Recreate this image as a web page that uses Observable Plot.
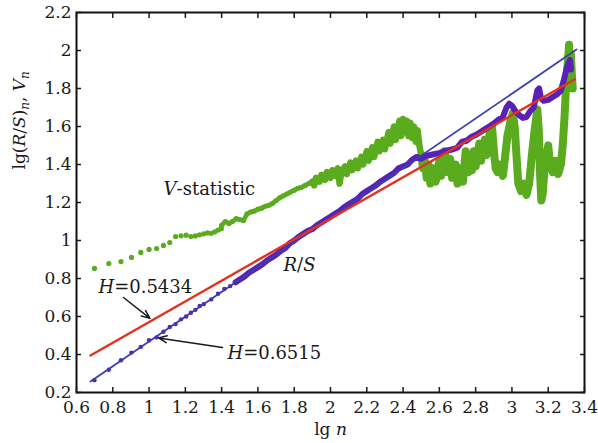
<!DOCTYPE html>
<html><head><meta charset="utf-8">
<script src="https://cdn.jsdelivr.net/npm/d3@7"></script>
<script src="https://cdn.jsdelivr.net/npm/@observablehq/plot@0.6"></script>
<style>
html,body{margin:0;padding:0;background:#fff;}
#chart text{white-space:pre;}
</style></head><body><div id="chart"></div>
<script>
// ---- tick labels ----
const xTicks = [0.6,0.8,1,1.2,1.4,1.6,1.8,2,2.2,2.4,2.6,2.8,3,3.2,3.4];
const yTicks = [0.2,0.4,0.6,0.8,1,1.2,1.4,1.6,1.8,2,2.2];

// ---- V-statistic (green): individual early points, n = 5..25 ----
const vLowN = [5,6,7,8,9,10,11,12,13,14,15,16,17,18,19,20,21,22,23,24,25];
const vLowY = [0.853,0.879,0.889,0.911,0.937,0.953,0.958,0.974,0.989,1.021,1.025,1.028,1.021,1.024,1.030,1.035,1.040,1.038,1.045,1.055,1.062];
// ---- V-statistic (green): dense part, lg n and V_n ----
const vBandX = [1.40,1.42,1.44,1.46,1.48,1.50,1.52,1.54,1.56,1.58,1.60,1.62,1.64,1.66,1.68,1.70,1.72,1.74,1.76,1.78,1.80,1.82,1.84,1.86,1.88,1.90,
  1.91,1.92,1.94,1.95,1.97,1.98,2.00,2.01,2.03,2.04,2.05,2.06,2.08,2.09,2.11,2.12,2.14,2.15,2.17,2.18,2.20,2.21,2.23,2.24,2.26,2.27,2.29,2.30,2.32,2.33,2.35,2.36,2.38,2.39,2.40,2.41,2.42,2.43,2.44,2.45,2.46,2.47,2.48,2.49,2.50,2.51,2.52,2.53,
  2.54,2.55,2.57,2.58,2.60,2.61,2.63,2.64,2.66,2.67,2.69,2.70,2.72,2.73,2.745,2.76,2.77,2.78,2.79,2.80,2.82,2.83,2.85,2.86,2.88,2.89,2.90,2.91,2.92,2.935,2.95,2.96,2.975,2.99,3.005,3.015,3.025,3.035,3.05,3.065,3.08,3.095,3.11,3.125,3.14,3.148,3.155,3.162,3.17,3.18,3.19,3.20,3.21,3.225,3.24,3.255,3.27,3.28,3.29,3.30,3.31,3.315,3.32,3.325,3.33,3.335];
const vBandY = [1.08,1.10,1.09,1.10,1.115,1.11,1.105,1.14,1.15,1.155,1.165,1.17,1.18,1.185,1.195,1.21,1.225,1.235,1.245,1.255,1.265,1.275,1.28,1.29,1.30,1.31,
  1.29,1.33,1.31,1.345,1.32,1.36,1.33,1.37,1.34,1.38,1.30,1.36,1.39,1.35,1.41,1.37,1.42,1.38,1.44,1.40,1.47,1.42,1.49,1.44,1.52,1.47,1.53,1.48,1.57,1.51,1.60,1.53,1.63,1.55,1.64,1.57,1.63,1.55,1.62,1.54,1.60,1.52,1.58,1.50,1.45,1.38,1.42,1.33,
  1.40,1.30,1.38,1.31,1.42,1.34,1.47,1.36,1.43,1.33,1.40,1.30,1.38,1.31,1.47,1.36,1.44,1.37,1.47,1.39,1.51,1.42,1.53,1.45,1.58,1.60,1.48,1.38,1.36,1.40,1.34,1.42,1.55,1.62,1.67,1.60,1.45,1.30,1.26,1.30,1.24,1.30,1.45,1.58,1.69,1.58,1.35,1.21,1.25,1.38,1.45,1.50,1.40,1.36,1.42,1.35,1.40,1.50,1.65,1.85,1.96,2.03,1.90,1.98,1.88,1.80];

// ---- R/S (purple): individual early points ----
const rsLowN = [5,6,7,8,9,10,11,12,13,14,15,16,17,18,19,20,22,24,26,28,30];
const rsLowY = [0.265,0.32,0.37,0.41,0.44,0.475,0.49,0.52,0.545,0.56,0.585,0.60,0.62,0.635,0.655,0.665,0.69,0.72,0.745,0.76,0.78];
// ---- R/S (purple): dense part ----
const rsBandX = [1.50,1.525,1.55,1.575,1.60,1.625,1.65,1.675,1.70,1.725,1.75,1.775,1.80,1.825,1.85,1.875,1.90,1.925,1.95,1.975,2.00,2.025,2.05,2.075,2.10,2.125,2.15,2.175,2.20,2.225,2.25,2.275,2.30,2.325,2.35,2.375,2.40,2.425,2.45,2.475,2.50,2.525,2.55,2.575,2.60,2.625,2.65,2.675,2.70,2.725,2.75,2.775,2.80,2.825,2.85,2.875,2.90,2.925,2.95,2.97,2.985,3.00,3.02,3.04,3.06,3.08,3.10,3.12,3.14,3.15,3.16,3.175,3.20,3.225,3.25,3.27,3.285,3.30,3.31,3.32,3.325];
const rsBandY = [0.795,0.81,0.83,0.845,0.86,0.875,0.895,0.91,0.925,0.945,0.96,0.985,1.00,1.02,1.035,1.05,1.06,1.08,1.095,1.11,1.125,1.14,1.155,1.175,1.19,1.205,1.22,1.245,1.26,1.275,1.29,1.31,1.325,1.34,1.355,1.38,1.39,1.40,1.425,1.44,1.43,1.445,1.45,1.455,1.46,1.47,1.475,1.48,1.49,1.52,1.525,1.545,1.555,1.57,1.585,1.60,1.615,1.635,1.65,1.70,1.72,1.71,1.68,1.66,1.645,1.65,1.68,1.70,1.79,1.80,1.75,1.735,1.74,1.755,1.77,1.79,1.84,1.90,1.93,1.95,1.90];

// ---- fitted lines (end points) ----
const fitX = [0.677, 3.356];
const fitBlueY = [0.258, 2.005];      // H = 0.6515
const fitRedX = [0.677, 3.345];
const fitRedY = [0.395, 1.847];       // H = 0.5434

// ---- annotations (data coordinates) ----
const notes = [
  {text: "V-statistic", x: 1.08, y: 1.268},
  {text: "R/S", x: 1.741, y: 0.868},
  {text: "H=0.5434", x: 0.721, y: 0.753},
  {text: "H=0.6515", x: 1.432, y: 0.405}
];
const arrows = [
  {x1: 0.859, y1: 0.70, x2: 1.005, y2: 0.59},
  {x1: 1.405, y1: 0.437, x2: 1.052, y2: 0.487}
];

const GREEN = "#5aac1e", PURPLE = "#5a22b4", BLUE = "#3b3fae", RED = "#e3321f";

const vLow = vLowN.map((n, i) => ({x: Math.log10(n), y: vLowY[i]}));
const vBand = vBandX.map((x, i) => ({x, y: vBandY[i]}));
const rsLow = rsLowN.map((n, i) => ({x: Math.log10(n), y: rsLowY[i]}));
const rsBand = rsBandX.map((x, i) => ({x, y: rsBandY[i]}));
const blue = fitX.map((x, i) => ({x, y: fitBlueY[i]}));
const red = fitRedX.map((x, i) => ({x, y: fitRedY[i]}));
const vThin = [vLow[vLow.length - 1], ...vBand.filter(d => d.x <= 1.91)];
const vMid = vBand.filter(d => d.x >= 1.90 && d.x <= 2.50);
const vDense = vBand.filter(d => d.x >= 2.50);
const rsLine = [rsLow[rsLow.length - 1], ...rsBand];

const fmt = d => d3.format("~g")(d);
const FONT = '"DejaVu Serif", serif';
const INK = "#1a1a1a";

const chart = Plot.plot({
  width: 598, height: 443,
  marginLeft: 76, marginRight: 14, marginTop: 12, marginBottom: 51,
  style: {fontFamily: FONT, fontSize: "17px", color: INK, background: "#fff"},
  x: {domain: [0.6, 3.4]},
  y: {domain: [0.2, 2.2]},
  marks: [
    Plot.line(vThin, {x: "x", y: "y", stroke: GREEN, strokeWidth: 4.5, strokeLinejoin: "round", strokeLinecap: "round"}),
    Plot.line(vMid, {x: "x", y: "y", stroke: GREEN, strokeWidth: 6.5, strokeLinejoin: "round", strokeLinecap: "round"}),
    Plot.line(vDense, {x: "x", y: "y", stroke: GREEN, strokeWidth: 8, strokeLinejoin: "round", strokeLinecap: "round"}),
    Plot.dot([...vLow, ...vBand], {x: "x", y: "y", r: 2.6, fill: GREEN}),
    Plot.line(rsLine, {x: "x", y: "y", stroke: PURPLE, strokeWidth: 6, strokeLinejoin: "round", strokeLinecap: "round"}),
    Plot.dot([...rsLow, ...rsBand], {x: "x", y: "y", r: 2.2, fill: PURPLE}),
    Plot.line(blue, {x: "x", y: "y", stroke: BLUE, strokeWidth: 1.8}),
    Plot.line(red, {x: "x", y: "y", stroke: RED, strokeWidth: 2.4}),
    Plot.arrow(arrows, {x1: "x1", y1: "y1", x2: "x2", y2: "y2", stroke: INK, strokeWidth: 1.5, headLength: 9, headAngle: 45}),
    Plot.text(notes, {x: "x", y: "y", text: "text", textAnchor: "start", fontSize: 18, fill: INK}),
    Plot.frame({stroke: "#111", strokeWidth: 2}),
    Plot.axisX(xTicks, {anchor: "bottom", tickSize: -5, tickPadding: 13, tickFormat: fmt, label: null, strokeWidth: 1.5}),
    Plot.axisX(xTicks, {anchor: "top", tickSize: -5, tickFormat: () => "", label: null, strokeWidth: 1.5}),
    Plot.axisY(yTicks, {anchor: "left", tickSize: -5, tickPadding: 10, tickFormat: fmt, label: null, strokeWidth: 1.5}),
    Plot.axisY(yTicks, {anchor: "right", tickSize: -5, tickFormat: () => "", label: null, strokeWidth: 1.5}),
    Plot.text(["lg n"], {frameAnchor: "bottom", dy: 42, fontSize: 17, fill: INK}),
    Plot.text(["lg(R/S)n, Vn"], {frameAnchor: "left", rotate: -90, dx: -57, dy: -33, fontSize: 17, fill: INK})
  ]
});

// mixed italic / subscript runs, as in the original math typesetting
const rich = {
  "V-statistic": [["V", "i"], ["-statistic"]],
  "R/S": [["R", "i"], ["/"], ["S", "i"]],
  "H=0.5434": [["H", "i"], ["=0.5434"]],
  "H=0.6515": [["H", "i"], ["=0.6515"]],
  "lg n": [["lg "], ["n", "i"]],
  "lg(R/S)n, Vn": [["lg("], ["R", "i"], ["/"], ["S", "i"], [")"], ["n", "is"], [", "], ["V", "i"], ["n", "is"]]
};
const svg = d3.select(chart);
svg.style("font-family", FONT);
svg.selectAll("text").style("font-family", FONT).each(function () {
  const segs = rich[this.textContent];
  if (!segs) return;
  const t = d3.select(this);
  t.text(null);
  let sub = false;
  for (const [s, m = ""] of segs) {
    const ts = t.append("tspan").text(s);
    if (m.includes("i")) ts.attr("font-style", "italic");
    if (m.includes("s")) { ts.attr("font-size", "12px"); if (!sub) ts.attr("dy", 4); sub = true; }
    else if (sub) { ts.attr("dy", -4); sub = false; }
  }
});
document.getElementById("chart").append(chart);
</script>
</body></html>
